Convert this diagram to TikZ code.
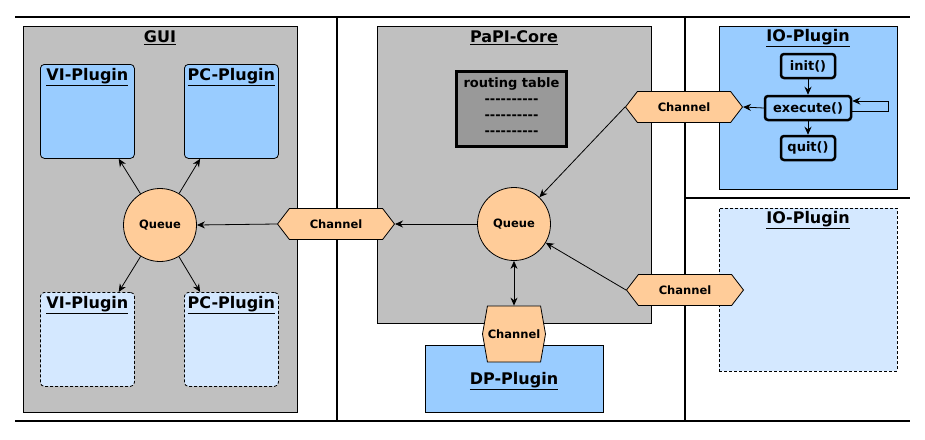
\documentclass[tikz,border=0pt]{standalone}
\usepackage{fontspec}
\setmainfont{DejaVu Sans}
\usetikzlibrary{arrows.meta,shapes.symbols,calc}
\definecolor{guigray}{HTML}{C0C0C0}
\definecolor{plugblue}{HTML}{99CCFF}
\definecolor{pluglight}{HTML}{D4E8FF}
\definecolor{peach}{HTML}{FFCC99}
\definecolor{rtgray}{HTML}{999999}
\newcommand\hyrow{-\kern0pt-\kern0pt-\kern0pt-\kern0pt-\kern0pt-\kern0pt-\kern0pt-\kern0pt-\kern0pt-}
\begin{document}
\begin{tikzpicture}[x=1pt,y=-1pt,
  frameline/.style={line width=2.5pt},
  area/.style={draw, fill=guigray, line width=0.8pt, anchor=north west, inner sep=0pt},
  plugbox/.style={draw, fill=plugblue, rounded corners=4pt, line width=0.8pt, anchor=north west, inner sep=0pt, minimum width=94pt, minimum height=94pt},
  dashline/.style={dash pattern=on 3pt off 2pt},
  plugdash/.style={plugbox, fill=pluglight, dashline},
  iobox/.style={draw, fill=plugblue, line width=0.8pt, anchor=north west, inner sep=0pt, minimum width=178pt, minimum height=163pt},
  title/.style={font=\bfseries\fontsize{16}{19}\selectfont, inner sep=0pt},
  queue/.style={circle, draw, fill=peach, line width=0.8pt, minimum size=73pt, inner sep=0pt, font=\bfseries\fontsize{11.5}{13}\selectfont},
  chan/.style={signal, signal to=west and east, draw, fill=peach, line width=0.8pt, inner sep=0pt, minimum width=117pt, minimum height=31pt, signal pointer angle=105, font=\bfseries\fontsize{11.5}{13}\selectfont},
  fn/.style={draw, fill=plugblue, line width=2.5pt, rounded corners=3pt, inner sep=0pt, minimum height=24pt, font=\bfseries\fontsize{13}{15}\selectfont},
  conn/.style={-{Stealth[length=8pt,width=7pt]}, line width=0.8pt},
  conn2/.style={{Stealth[length=8pt,width=7pt]}-{Stealth[length=8pt,width=7pt]}, line width=0.8pt}
]
\useasboundingbox (0,0) rectangle (925,439);
% frame
\draw[frameline] (15,17) -- (910,17);
\draw[frameline] (15,421) -- (910,421);
\draw[frameline] (337,17) -- (337,421);
\draw[frameline] (685,17) -- (685,421);
\draw[frameline] (685,198) -- (910,198);

% GUI
\node[area, minimum width=274pt, minimum height=386pt] (gui) at (23,26) {};
\node[title] (guit) at (160,38) {\underline{GUI}};
\node[plugbox] (vi1) at (40,64) {};
\node[plugbox] (pc1) at (184,64) {};
\node[plugdash] (vi2) at (40,292) {};
\node[plugdash] (pc2) at (184,292) {};
\node[title] (vi1t) at ([yshift=-13pt]vi1.north) {\underline{VI-Plugin}};
\node[title] (pc1t) at ([yshift=-13pt]pc1.north) {\underline{PC-Plugin}};
\node[title] (vi2t) at ([yshift=-13pt]vi2.north) {\underline{VI-Plugin}};
\node[title] (pc2t) at ([yshift=-13pt]pc2.north) {\underline{PC-Plugin}};
\node[queue] (gq) at (160,225) {Queue};

% Core
\node[area, minimum width=274pt, minimum height=297pt] (core) at (377,26) {};
\node[title] (coret) at (514,38) {\underline{PaPI-Core}};
\node[draw, fill=rtgray, line width=3pt, anchor=north west, minimum width=110pt, minimum height=75pt, inner sep=0pt] (rt) at (455,70) {};
\node[align=center, anchor=north, inner sep=0pt, font=\bfseries\fontsize{13}{16}\selectfont] (rtt) at ([yshift=-7pt]rt.north) {routing table\\\hyrow\\\hyrow\\\hyrow};
\node[queue] (cq) at (514,224) {Queue};

% DP plugin
\node[draw, fill=plugblue, line width=0.8pt, anchor=north west, inner sep=0pt, minimum width=178pt, minimum height=67pt] (dp) at (425,345) {};
\node[title] (dpt) at (514,381) {\underline{DP-Plugin}};

% IO plugins
\node[iobox] (io1) at (719,26) {};
\node[title] (io1t) at (808,38) {\underline{IO-Plugin}};
\node[iobox, fill=pluglight, dashline] (io2) at (719,208) {};
\node[title] (io2t) at (808,220) {\underline{IO-Plugin}};
\node[fn, minimum width=54pt] (init) at (808,66) {init()};
\node[fn, minimum width=86pt] (ex) at (808,108) {execute()};
\node[fn, minimum width=54pt] (quit) at (808,148) {quit()};

% channels
\node[chan] (ch1) at (336,224) {Channel};
\node[chan] (ch2) at (684,107) {Channel};
\node[chan] (ch3) at (685,290) {Channel};
\node[chan, minimum width=63pt, minimum height=56pt, signal pointer angle=160] (ch4) at (514,334) {Channel};

% connectors
\draw[conn] (gq) -- ($(vi1.south west)!0.83!(vi1.south east)$);
\draw[conn] (gq) -- ($(pc1.south west)!0.17!(pc1.south east)$);
\draw[conn] (gq) -- ($(vi2.north west)!0.83!(vi2.north east)$);
\draw[conn] (gq) -- ($(pc2.north west)!0.17!(pc2.north east)$);
\draw[conn] (ch1.west) -- (gq.east);
\draw[conn] (cq.west) -- (ch1.east);
\draw[conn] (ch2.west) -- (cq);
\draw[conn] (ch3.west) -- (cq);
\draw[conn2] (cq.south) -- (ch4.north);
\draw[conn] (ex.west) -- (ch2.east);
\draw[conn] (init.south) -- (ex.north);
\draw[conn] (ex.south) -- (quit.north);
\draw[conn] ([yshift=-3pt]ex.east) -- ++(36,0) |- ([yshift=7pt]ex.east);
\end{tikzpicture}
\end{document}
